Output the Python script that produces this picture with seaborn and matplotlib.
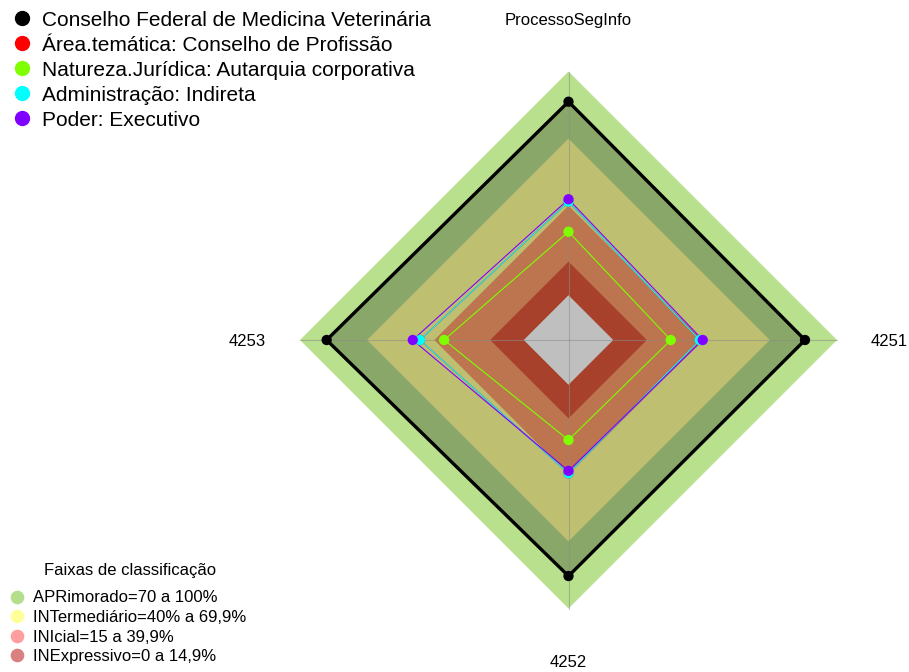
import numpy as np
import pandas as pd
import matplotlib
matplotlib.use("Agg")
import matplotlib.pyplot as plt
from matplotlib.lines import Line2D
import seaborn as sns

# ── Data ──────────────────────────────────────────────────────────────────────
axis_labels = ["ProcessoSegInfo", "4251", "4252", "4253"]   # clockwise from top

series_names = [
    "Conselho Federal de Medicina Veterinária",
    "Área.temática: Conselho de Profissão",
    "Natureza.Jurídica: Autarquia corporativa",
    "Administração: Indireta",
    "Poder: Executivo",
]
cfmv_values      = [86.5, 85.7, 85.5, 88.1]
area_values      = [41.8, 38.6, 39.6, 46.4]
natureza_values  = [28.4, 25.7, 24.7, 35.6]
admin_values     = [41.8, 38.6, 39.6, 46.4]
poder_values     = [42.9, 40.0, 38.5, 49.6]
series_colors = ["#000000", "#ff0000", "#7fff00", "#00ffff", "#8000ff"]

band_limits = [100, 70, 40, 15]
band_colors = ["#b8e08d", "#ffff99", "#fc9d69", "#e0573b"]
band_labels = [
    "APRimorado=70 a 100%",
    "INTermediário=40% a 69,9%",
    "INIcial=15 a 39,9%",
    "INExpressivo=0 a 14,9%",
]
band_legend_colors = ["#b5de8c", "#ffff99", "#ff9e9e", "#d98080"]

AXIS_MIN, AXIS_MAX = -20, 100

# ── Helpers ───────────────────────────────────────────────────────────────────
angles = np.arange(len(axis_labels)) * 2 * np.pi / len(axis_labels)


def to_xy(values):
    r = np.asarray(values, dtype=float) - AXIS_MIN
    return r * np.sin(angles), r * np.cos(angles)


def closed(a):
    return np.append(a, a[0])


# ── Figure ────────────────────────────────────────────────────────────────────
sns.set_theme(style="white")
plt.rcParams["font.family"] = ["Liberation Sans", "DejaVu Sans"]
plt.rcParams["text.color"] = "black"

W, H = 909, 672
fig = plt.figure(figsize=(W / 100, H / 100), dpi=100)
ax = fig.add_axes([0, 0, 1, 1])
scale = 268.5 / (AXIS_MAX - AXIS_MIN)          # px per unit
cx, cy = 568.5, 340.0                          # centre in px from top-left

# classification bands
for lim, col in zip(band_limits, band_colors):
    x, y = to_xy([lim] * len(axis_labels))
    ax.fill(x, y, color=col, lw=0, zorder=1)
x, y = to_xy([0] * len(axis_labels))
ax.fill(x, y, color="white", lw=0, zorder=1)

# shaded area of the main series
x, y = to_xy(cfmv_values)
ax.fill(x, y, color="black", alpha=0.25, lw=0, zorder=2)

# axis spokes
for a in angles:
    r = AXIS_MAX - AXIS_MIN
    ax.plot([0, r * np.sin(a)], [0, r * np.cos(a)], color="#8c8c8c",
            alpha=0.55, lw=0.8, zorder=3)

# series lines + points
all_values = [cfmv_values, area_values, natureza_values, admin_values, poder_values]
rows = []
for name, vals, col in zip(series_names, all_values, series_colors):
    x, y = to_xy(vals)
    lw = 2.4 if col == "#000000" else 0.8
    ax.plot(closed(x), closed(y), color=col, lw=lw, zorder=4)
    for xi, yi in zip(x, y):
        rows.append({"series": name, "x": xi, "y": yi})
pts = pd.DataFrame(rows)
sns.scatterplot(data=pts, x="x", y="y", hue="series",
                palette=dict(zip(series_names, series_colors)),
                s=55, edgecolor="none", legend=False, ax=ax, zorder=5)
ax.set_xlim(-cx / scale, (W - cx) / scale)
ax.set_ylim(-(H - cy) / scale, cy / scale)
ax.axis("off")

# axis labels
lab_r = 143.5
for lab, a in zip(axis_labels, angles):
    ax.text(lab_r * np.sin(a), lab_r * np.cos(a) - 0.6, lab, fontsize=12,
            ha="center", va="center", color="black", zorder=6)

# series legend (top left)
handles = [Line2D([], [], marker="o", ls="", color=c, markersize=10)
           for c in series_colors]
leg1 = ax.legend(handles, series_names, loc="upper left",
                 bbox_to_anchor=(13.4 / W, 1 - 10.5 / H), bbox_transform=fig.transFigure,
                 frameon=False, fontsize=15, borderpad=0, borderaxespad=0,
                 handlelength=0.8, handletextpad=0.55, labelspacing=0.29,
                 labelcolor="black")
ax.add_artist(leg1)

# classification legend (bottom left)
fig.text(130 / W, 1 - 570 / H, "Faixas de classificação", fontsize=12,
         ha="center", va="center", color="black")
handles2 = [Line2D([], [], marker="o", ls="", color=c, markersize=8.8)
            for c in band_legend_colors]
ax.legend(handles2, band_labels, loc="lower left",
          bbox_to_anchor=(10.0 / W, 1 - 664 / H), bbox_transform=fig.transFigure,
          frameon=False, fontsize=12, borderpad=0, borderaxespad=0,
          handlelength=0.8, handletextpad=0.6, labelspacing=0.27,
          labelcolor="black")

fig.savefig("out.png", dpi=100)
